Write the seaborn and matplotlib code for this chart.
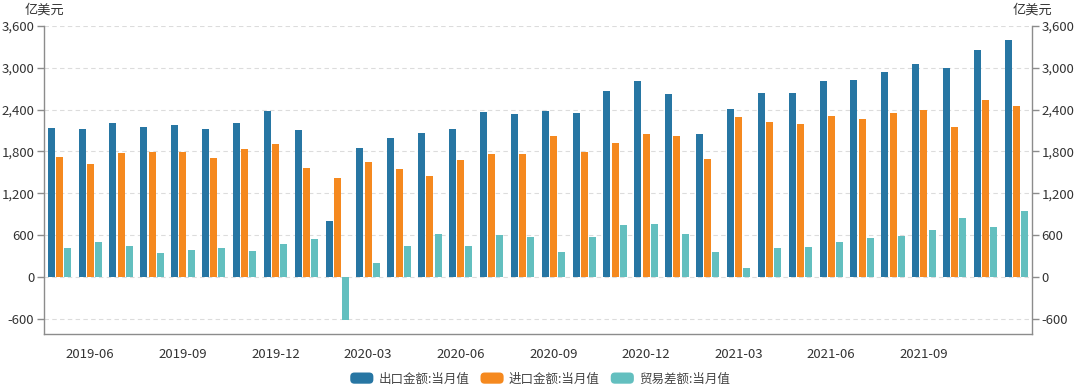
"""
China monthly trade: exports, imports and trade balance (100M USD), 2019-05 .. 2021-12.
"""
import matplotlib
matplotlib.use("Agg")
import pandas as pd
import matplotlib.pyplot as plt
import matplotlib.patches as mpatches
from matplotlib.legend_handler import HandlerPatch
from matplotlib.ticker import FuncFormatter
import seaborn as sns

# ---- data ----
months = [
    '2019-05', '2019-06', '2019-07', '2019-08', '2019-09', '2019-10', '2019-11', '2019-12',
    '2020-01', '2020-02', '2020-03', '2020-04', '2020-05', '2020-06', '2020-07', '2020-08',
    '2020-09', '2020-10', '2020-11', '2020-12', '2021-01', '2021-02', '2021-03', '2021-04',
    '2021-05', '2021-06', '2021-07', '2021-08', '2021-09', '2021-10', '2021-11', '2021-12',
]
exports = [2137, 2122, 2213, 2146, 2180, 2127, 2208, 2385, 2113, 803, 1845, 1993, 2060, 2122, 2361, 2337,
           2385, 2357, 2667, 2811, 2629, 2046, 2409, 2634, 2634, 2811, 2825, 2940, 3054, 2997, 3250, 3399]
imports = [1726, 1625, 1778, 1797, 1788, 1706, 1836, 1912, 1568, 1420, 1644, 1544, 1448, 1678, 1764, 1769,
           2027, 1788, 1922, 2055, 2017, 1687, 2290, 2223, 2199, 2309, 2266, 2357, 2390, 2156, 2538, 2457]
balance = [411, 497, 440, 344, 387, 421, 373, 473, 545, -617, 201, 449, 617, 445, 602, 574,
           354, 574, 741, 760, 617, 354, 120, 416, 435, 507, 564, 588, 669, 846, 717, 946]

series_names = ['出口金额:当月值', '进口金额:当月值', '贸易差额:当月值']
colors = ['#2776a3', '#f5891f', '#63bfbf']
x_tick_labels = ['2019-06', '2019-09', '2019-12', '2020-03', '2020-06',
                 '2020-09', '2020-12', '2021-03', '2021-06', '2021-09']
y_ticks = [-600, 0, 600, 1200, 1800, 2400, 3000, 3600]
unit = '亿美元'

df = pd.DataFrame({'month': months, series_names[0]: exports,
                   series_names[1]: imports, series_names[2]: balance})
df_long = df.melt(id_vars='month', var_name='series', value_name='value')

# ---- style ----
sns.set_style('white')
plt.rcParams['font.family'] = ['Noto Sans CJK SC', 'DejaVu Sans']
plt.rcParams['axes.unicode_minus'] = False

AXIS_COLOR = '#8c8c8c'
TEXT_COLOR = '#333333'

fig = plt.figure(figsize=(10.8, 3.89), dpi=100)
ax = fig.add_axes([0.0407, 0.1414, 0.9148, 0.7918])

sns.barplot(data=df_long, x='month', y='value', hue='series', hue_order=series_names,
            order=months, palette=colors, saturation=1, width=0.8, gap=0.15,
            linewidth=0, legend=False, ax=ax)

ax.set_xlim(-0.5, len(months) - 0.5)
ax.set_ylim(-820, 3600)
ax.set_xlabel('')
ax.set_ylabel('')

fmt = FuncFormatter(lambda v, p: f'{v:,.0f}')
ax.set_yticks(y_ticks)
ax.yaxis.set_major_formatter(fmt)
ax.set_xticks([months.index(m) for m in x_tick_labels])
ax.set_xticklabels(x_tick_labels)

ax.yaxis.grid(True, linestyle=(0, (4, 3)), color='#dcdcdc', linewidth=0.8)
ax.set_axisbelow(True)

for side in ['left', 'bottom']:
    ax.spines[side].set_color(AXIS_COLOR)
    ax.spines[side].set_linewidth(1.0)
ax.spines['top'].set_visible(False)
ax.spines['right'].set_visible(False)
ax.tick_params(axis='both', colors=AXIS_COLOR, labelcolor=TEXT_COLOR,
               labelsize=9.5, length=5, width=1.0, direction='out', pad=2)
ax.tick_params(axis='x', pad=5)

# right axis mirrors the left
ax2 = ax.twinx()
ax2.set_ylim(ax.get_ylim())
ax2.set_yticks(y_ticks)
ax2.yaxis.set_major_formatter(fmt)
for side in ['left', 'top', 'bottom']:
    ax2.spines[side].set_visible(False)
ax2.spines['right'].set_color(AXIS_COLOR)
ax2.spines['right'].set_linewidth(1.0)
ax2.tick_params(axis='y', colors=AXIS_COLOR, labelcolor=TEXT_COLOR,
                labelsize=9.5, length=5, width=1.0, direction='out', pad=2)

fig.text(0.041, 0.974, unit, ha='center', va='center', fontsize=9.5, color=TEXT_COLOR)
fig.text(0.956, 0.974, unit, ha='center', va='center', fontsize=9.5, color=TEXT_COLOR)


# legend with rounded swatches
def _rounded(legend, orig_handle, xdescent, ydescent, width, height, fontsize):
    return mpatches.FancyBboxPatch((-xdescent, -ydescent), width, height,
                                   boxstyle='round,pad=0,rounding_size=3')


handles = [mpatches.Patch(facecolor=c, edgecolor='none', label=n)
           for c, n in zip(colors, series_names)]
fig.legend(handles=handles, loc='center', bbox_to_anchor=(0.5, 0.026), ncol=3,
           frameon=False, fontsize=9, handlelength=1.85, handleheight=1.0,
           handletextpad=0.4, columnspacing=0.9, labelcolor='#444444',
           handler_map={mpatches.Patch: HandlerPatch(patch_func=_rounded)})

fig.savefig('out.png', dpi=100)
